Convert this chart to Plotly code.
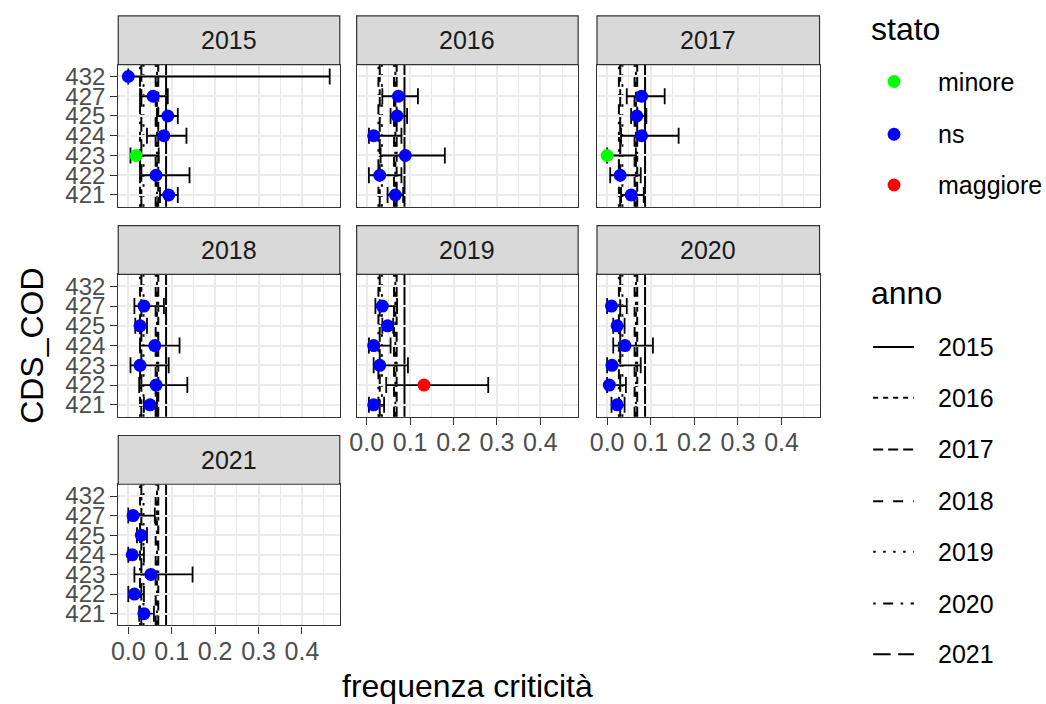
import plotly.graph_objects as go

W, H = 1046, 704

# ---------------- data ----------------
categories = ['421', '422', '423', '424', '425', '427', '432']
years = [2015, 2016, 2017, 2018, 2019, 2020, 2021]

freq_2015 = [0.093, 0.064, 0.018, 0.082, 0.091, 0.057, 0.000]
low_2015 = [0.073, 0.027, 0.005, 0.043, 0.066, 0.027, 0.000]
high_2015 = [0.114, 0.141, 0.070, 0.134, 0.114, 0.091, 0.464]
stato_2015 = ['ns', 'ns', 'minore', 'ns', 'ns', 'ns', 'ns']

freq_2016 = [0.066, 0.030, 0.089, 0.016, 0.070, 0.073, None]
low_2016 = [0.048, 0.005, 0.032, 0.005, 0.055, 0.036, None]
high_2016 = [0.084, 0.080, 0.180, 0.080, 0.093, 0.118, None]
stato_2016 = ['ns', 'ns', 'ns', 'ns', 'ns', 'ns', None]

freq_2017 = [0.055, 0.030, 0.000, 0.079, 0.068, 0.079, None]
low_2017 = [0.032, 0.007, 0.000, 0.032, 0.055, 0.045, None]
high_2017 = [0.084, 0.077, 0.066, 0.164, 0.090, 0.132, None]
stato_2017 = ['ns', 'ns', 'minore', 'ns', 'ns', 'ns', None]

freq_2018 = [0.050, 0.064, 0.027, 0.061, 0.027, 0.036, None]
low_2018 = [0.036, 0.025, 0.005, 0.027, 0.016, 0.014, None]
high_2018 = [0.066, 0.136, 0.093, 0.118, 0.043, 0.082, None]
stato_2018 = ['ns', 'ns', 'ns', 'ns', 'ns', 'ns', None]

freq_2019 = [0.016, 0.132, 0.030, 0.016, 0.048, 0.036, None]
low_2019 = [0.005, 0.045, 0.016, 0.005, 0.036, 0.020, None]
high_2019 = [0.040, 0.280, 0.095, 0.055, 0.061, 0.070, None]
stato_2019 = ['ns', 'maggiore', 'ns', 'ns', 'ns', 'ns', None]

freq_2020 = [0.023, 0.005, 0.011, 0.041, 0.023, 0.010, None]
low_2020 = [0.010, 0.000, 0.000, 0.014, 0.014, 0.000, None]
high_2020 = [0.040, 0.043, 0.077, 0.105, 0.040, 0.045, None]
stato_2020 = ['ns', 'ns', 'ns', 'ns', 'ns', 'ns', None]

freq_2021 = [0.036, 0.014, 0.052, 0.009, 0.030, 0.011, None]
low_2021 = [0.025, 0.000, 0.014, 0.000, 0.020, 0.000, None]
high_2021 = [0.059, 0.036, 0.148, 0.036, 0.043, 0.061, None]
stato_2021 = ['ns', 'ns', 'ns', 'ns', 'ns', 'ns', None]

# reference (vertical) lines, one per year
vline_year = [2015, 2016, 2017, 2018, 2019, 2020, 2021]
vline_x = [0.087, 0.066, 0.069, 0.063, 0.035, 0.027, 0.030]

stato_levels = ['minore', 'ns', 'maggiore']
x_tick_vals = [0.0, 0.1, 0.2, 0.3, 0.4]
x_tick_text = ['0.0', '0.1', '0.2', '0.3', '0.4']

panels = {
    2015: (freq_2015, low_2015, high_2015, stato_2015),
    2016: (freq_2016, low_2016, high_2016, stato_2016),
    2017: (freq_2017, low_2017, high_2017, stato_2017),
    2018: (freq_2018, low_2018, high_2018, stato_2018),
    2019: (freq_2019, low_2019, high_2019, stato_2019),
    2020: (freq_2020, low_2020, high_2020, stato_2020),
    2021: (freq_2021, low_2021, high_2021, stato_2021),
}

# ---------------- styles ----------------
stato_colors = {'minore': '#00FF00', 'ns': '#0000FF', 'maggiore': '#FF0000'}
u = 2.5
def d(*a):
    return ','.join(f'{v * u:.1f}px' for v in a)
year_dash = {
    2015: 'solid',
    2016: d(2, 2),
    2017: d(4, 2),
    2018: d(4, 4),
    2019: d(1, 3),
    2020: d(1, 3, 4, 3),
    2021: d(7, 3),
}
FONT = 'Liberation Sans, Arial, Helvetica, sans-serif'
GRID = '#EBEBEB'
BORDER = '#333333'
TICKCOL = '#4D4D4D'
TICK_FS = 25
TITLE_FS = 32
LW = 2.0

col_px = [(112, 335), (352, 575), (594, 818)]
row_panel_px = [(63, 206), (274, 417), (485, 627)]
row_strip_px = [(14, 63), (225, 274), (436, 485)]

# x range from data (ggplot-like 5% expansion)
all_low = [v for yv in years for v in panels[yv][1] if v is not None]
all_high = [v for yv in years for v in panels[yv][2] if v is not None]
lo, hi = min(all_low + [0]), max(all_high)
pad = 0.05 * (hi - lo)
x_range = [lo - pad, hi + pad]

fig = go.Figure()
layout = dict(
    width=W, height=H, autosize=False,
    margin=dict(l=0, r=0, t=0, b=0),
    paper_bgcolor='white', plot_bgcolor='white',
    showlegend=False,
    font=dict(family=FONT, color='black'),
)
shapes = []
annotations = []

for i, yr in enumerate(years):
    r, c = divmod(i, 3)
    n = i + 1
    xa = 'xaxis' if n == 1 else f'xaxis{n}'
    ya = 'yaxis' if n == 1 else f'yaxis{n}'
    xr = 'x' if n == 1 else f'x{n}'
    yref = 'y' if n == 1 else f'y{n}'
    x0p, x1p = col_px[c]
    y0p, y1p = row_panel_px[r]
    bottom_of_col = (i + 3) >= len(years)
    left_col = c == 0

    layout[xa] = dict(
        domain=[x0p / W, x1p / W], anchor=yref, range=x_range,
        tickmode='array', tickvals=x_tick_vals, ticktext=x_tick_text,
        showticklabels=bottom_of_col,
        ticks='outside' if bottom_of_col else '',
        ticklen=7, tickwidth=1.2, tickcolor=BORDER,
        ticklabelstandoff=-4,
        tickfont=dict(size=TICK_FS, color=TICKCOL, family=FONT),
        showgrid=True, gridcolor=GRID, gridwidth=1.6,
        minor=dict(dtick=0.05, tick0=0, showgrid=True, gridcolor=GRID, gridwidth=0.8, ticks=''),
        zeroline=False, showline=True, mirror=True, linecolor=BORDER, linewidth=1.2,
        fixedrange=True,
    )
    layout[ya] = dict(
        domain=[1 - y1p / H, 1 - y0p / H], anchor=xr,
        type='category', categoryorder='array', categoryarray=categories,
        tickmode='array', tickvals=categories, ticktext=categories,
        range=[-0.6, len(categories) - 0.4],
        showticklabels=left_col,
        ticks='outside' if left_col else '',
        ticklen=7, tickwidth=1.2, tickcolor=BORDER,
        tickfont=dict(size=24, color=TICKCOL, family=FONT),
        showgrid=True, gridcolor=GRID, gridwidth=1.6,
        zeroline=False, showline=True, mirror=True, linecolor=BORDER, linewidth=1.2,
        fixedrange=True,
    )

    # vertical reference lines
    for vy, vx in zip(vline_year, vline_x):
        shapes.append(dict(
            type='line', xref=xr, yref=f'{yref} domain', x0=vx, x1=vx, y0=0, y1=1,
            line=dict(color='black', width=LW, dash=year_dash[vy]), layer='below'))

    # strip
    s0, s1 = row_strip_px[r]
    shapes.append(dict(type='rect', xref='paper', yref='paper',
                       x0=x0p / W, x1=x1p / W, y0=1 - s1 / H, y1=1 - s0 / H,
                       fillcolor='#D9D9D9', line=dict(color=BORDER, width=1.2), layer='above'))
    annotations.append(dict(text=str(yr), xref='paper', yref='paper',
                            x=(x0p + x1p) / 2 / W, y=1 - (s0 + s1) / 2 / H,
                            showarrow=False, xanchor='center', yanchor='middle',
                            font=dict(size=TICK_FS, color='#1A1A1A', family=FONT)))

    # points with error bars
    fr, lw, hg, st = panels[yr]
    for lev in stato_levels:
        idx = [k for k in range(len(categories)) if st[k] == lev and fr[k] is not None]
        if not idx:
            continue
        xs = [fr[k] for k in idx]
        ys = [categories[k] for k in idx]
        fig.add_trace(go.Scatter(
            x=xs, y=ys, xaxis=xr, yaxis=yref, mode='markers',
            marker=dict(color=stato_colors[lev], size=13, line=dict(width=0)),
            error_x=dict(type='data', symmetric=False,
                         array=[hg[k] - fr[k] for k in idx],
                         arrayminus=[fr[k] - lw[k] for k in idx],
                         color='black', thickness=1.8, width=8),
            showlegend=False, hoverinfo='skip'))

# axis titles
annotations.append(dict(text='frequenza criticità', xref='paper', yref='paper',
                        x=464 / W, y=1 - 688 / H, showarrow=False,
                        xanchor='center', yanchor='middle',
                        font=dict(size=TITLE_FS, color='black', family=FONT)))
annotations.append(dict(text='CDS_COD', xref='paper', yref='paper',
                        x=25 / W, y=1 - 346 / H, showarrow=False, textangle=-90,
                        xanchor='center', yanchor='middle',
                        font=dict(size=TITLE_FS, color='black', family=FONT)))

# legend: stato
LX_T = 868
LX_KEY = 893
LX_TXT = 935
annotations.append(dict(text='stato', xref='paper', yref='paper', x=LX_T / W, y=1 - 27 / H,
                        showarrow=False, xanchor='left', yanchor='middle',
                        font=dict(size=TITLE_FS, color='black', family=FONT)))
stato_leg_y = [80, 133, 184]
rad = 6.5
for lev, yy in zip(stato_levels, stato_leg_y):
    shapes.append(dict(type='circle', xref='paper', yref='paper',
                       x0=(LX_KEY - rad) / W, x1=(LX_KEY + rad) / W,
                       y0=1 - (yy + rad) / H, y1=1 - (yy - rad) / H,
                       fillcolor=stato_colors[lev], line=dict(width=0)))
    annotations.append(dict(text=lev, xref='paper', yref='paper', x=LX_TXT / W, y=1 - yy / H,
                            showarrow=False, xanchor='left', yanchor='middle',
                            font=dict(size=TICK_FS, color='black', family=FONT)))

# legend: anno
annotations.append(dict(text='anno', xref='paper', yref='paper', x=LX_T / W, y=1 - 293 / H,
                        showarrow=False, xanchor='left', yanchor='middle',
                        font=dict(size=TITLE_FS, color='black', family=FONT)))
anno_leg_y = [347, 398, 450, 502, 553, 605, 656]
for yr, yy in zip(vline_year, anno_leg_y):
    shapes.append(dict(type='line', xref='paper', yref='paper',
                       x0=872 / W, x1=913 / W, y0=1 - yy / H, y1=1 - yy / H,
                       line=dict(color='black', width=LW, dash=year_dash[yr])))
    annotations.append(dict(text=str(yr), xref='paper', yref='paper', x=LX_TXT / W, y=1 - yy / H,
                            showarrow=False, xanchor='left', yanchor='middle',
                            font=dict(size=TICK_FS, color='black', family=FONT)))

layout['shapes'] = shapes
layout['annotations'] = annotations
fig.update_layout(**layout)
fig.write_html('out.html', config={'displayModeBar': False},
               post_script="document.body.style.margin='0px';document.body.style.overflow='hidden';")
